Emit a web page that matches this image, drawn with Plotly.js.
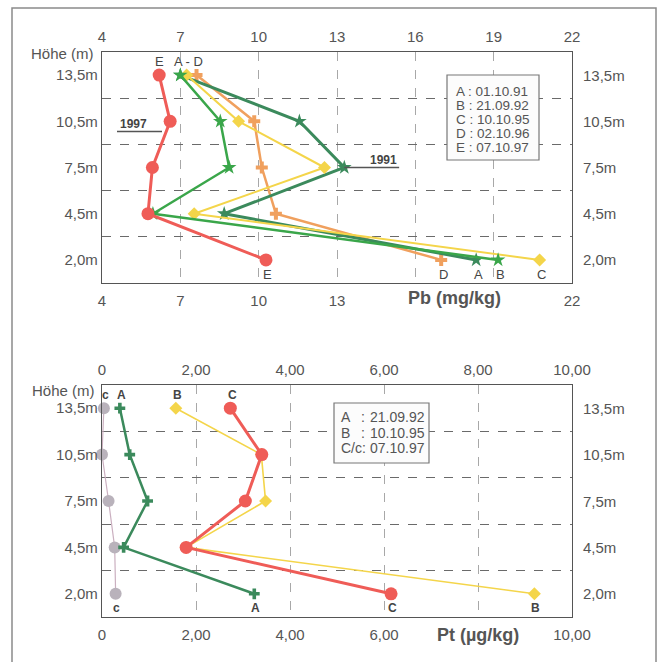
<!DOCTYPE html>
<html><head><meta charset="utf-8">
<script src="https://cdn.plot.ly/plotly-3.0.1.min.js"></script>
<style>html,body{margin:0;padding:0;background:#fff;} #chart{width:659px;height:662px;}</style>
</head><body><div id="chart"></div>
<script>
// ---- data ----
const heights = ['13,5m','10,5m','7,5m','4,5m','2,0m'];
const heightOrder = ['2,0m','4,5m','7,5m','10,5m','13,5m'];

const pbA = [7.0, 11.56, 13.28, 8.68, 18.33];
const pbB = [7.0, 8.53, 8.87, 5.95, 19.17];
const pbC = [7.24, 9.23, 12.52, 7.53, 20.76];
const pbD = [7.62, 9.83, 10.12, 10.66, 16.99];
const pbE = [6.19, 6.61, 5.93, 5.76, 10.28];
const pbTicks = [4, 7, 10, 13, 16, 19, 22];
const pbTopText = ['4','7','10','13','16','19','22'];
const pbBottomText = ['4','7','10','13','','','22'];
const pbLegend = ['A : 01.10.91','B : 21.09.92','C : 10.10.95','D : 02.10.96','E : 07.10.97'];

const ptA = [0.38, 0.59, 0.97, 0.46, 3.24];
const ptB = [1.57, 3.39, 3.48, 1.79, 9.20];
const ptC = [2.73, 3.40, 3.05, 1.79, 6.15];
const ptc = [0.04, 0.00, 0.14, 0.27, 0.29];
const ptTicks = [0, 2, 4, 6, 8, 10];
const ptTopText = ['0','2,00','4,00','6,00','8,00','10,00'];
const ptBottomText = ['0','2,00','4,00','6,00','','10,00'];
const ptLegendKeys = ['A','B','C/c:'];
const ptLegendDates = ['21.09.92', '10.10.95', '07.10.97'];

// ---- helpers ----
const W = 659, H = 662;
const px = v => v / W;
const py = v => 1 - v / H;
const FONT = 'Liberation Sans, Arial, sans-serif';
const TXT = '#555';

const cRed = '#ef5c57', cDark = '#3b8a5c', cGreen = '#3aa64a', cYellow = '#f4d54a', cOrange = '#f0a05e', cGray = '#b9b2bb';

function tr(x, xa, ya, color, width, symbol, msize, mcolor) {
  return {x: x, y: heights, xaxis: xa, yaxis: ya, type: 'scatter', mode: 'lines+markers',
    line: {color: color, width: width},
    marker: {symbol: symbol, size: msize, color: mcolor || color, line: {width: 0}},
    hoverinfo: 'skip', cliponaxis: false};
}
function ghost(x, xa, ya) {
  return {x: x, y: heights, xaxis: xa, yaxis: ya, type: 'scatter', mode: 'markers',
    marker: {opacity: 0, size: 1}, hoverinfo: 'skip'};
}

const data = [
  ghost(pbE, 'x3', 'y'),
  ghost(ptc, 'x4', 'y2'),
  tr(pbD, 'x', 'y', cOrange, 2.5, 'cross', 10),
  tr(pbA, 'x', 'y', cDark, 3, 'star', 11),
  tr(pbC, 'x', 'y', cYellow, 2, 'diamond', 10),
  tr(pbB, 'x', 'y', cGreen, 2.5, 'star', 11),
  tr(pbE, 'x', 'y', cRed, 3, 'circle', 13),
  tr(ptc, 'x2', 'y2', '#cbb0c0', 1.2, 'circle', 12, cGray),
  tr(ptB, 'x2', 'y2', cYellow, 1.6, 'diamond', 10),
  tr(ptA, 'x2', 'y2', cDark, 2.5, 'cross', 9),
  tr(ptC, 'x2', 'y2', cRed, 3, 'circle', 13)
];

const topDom = [py(283), py(52)];
const botDom = [py(617), py(385)];
const xDom = [px(102), px(572)];

function xax(range, tickvals, ticktext, anchor, grid) {
  return {domain: xDom, range: range, anchor: anchor, tickmode: 'array', tickvals: tickvals, ticktext: ticktext,
    showgrid: grid, gridcolor: '#a8a8a8', griddash: 'dash', gridwidth: 1, zeroline: false,
    showline: true, mirror: true, linecolor: '#555', linewidth: 1.2,
    ticks: 'outside', ticklen: 4, tickcolor: 'rgba(0,0,0,0)',
    tickfont: {family: FONT, size: 15, color: TXT}, fixedrange: true};
}
function xtop(over, anchor, tickvals, ticktext) {
  return {overlaying: over, matches: over, side: 'top', anchor: anchor, tickmode: 'array', tickvals: tickvals, ticktext: ticktext,
    showgrid: false, zeroline: false, showline: false, ticks: 'outside', ticklen: 3, tickcolor: 'rgba(0,0,0,0)',
    tickfont: {family: FONT, size: 15, color: TXT}, fixedrange: true};
}
function yax(dom, anchor) {
  return {domain: dom, anchor: anchor, type: 'category', categoryorder: 'array', categoryarray: heightOrder,
    range: [-0.5, 4.5], tickson: 'boundaries', showgrid: true, gridcolor: '#6a6a6a', griddash: 'dash', gridwidth: 1,
    showline: true, mirror: true, linecolor: '#555', linewidth: 1.2, zeroline: false,
    ticks: 'outside', ticklen: 7, tickcolor: 'rgba(0,0,0,0)',
    tickfont: {family: FONT, size: 15, color: TXT}, fixedrange: true};
}

const ann = [];
function A(o) { ann.push(Object.assign({showarrow: false, font: {family: FONT, size: 13, color: '#444'}}, o)); }

// right side height labels
heights.forEach(h => {
  A({xref: 'paper', x: px(581), xanchor: 'left', yref: 'y', y: h, text: h, font: {family: FONT, size: 15, color: TXT}});
  A({xref: 'paper', x: px(581), xanchor: 'left', yref: 'y2', y: h, text: h, font: {family: FONT, size: 15, color: TXT}});
});
// Höhe labels
A({xref: 'paper', x: px(96), xanchor: 'right', yref: 'paper', y: py(54), yanchor: 'middle', text: 'Höhe (m)', font: {family: FONT, size: 15, color: TXT}});
A({xref: 'paper', x: px(97), xanchor: 'right', yref: 'paper', y: py(390), yanchor: 'middle', text: 'Höhe (m)', font: {family: FONT, size: 15, color: TXT}});
// axis titles
A({xref: 'x', x: 17.5, yref: 'paper', y: py(298), yanchor: 'middle', text: '<b>Pb (mg/kg)</b>', font: {family: FONT, size: 18, color: TXT}});
A({xref: 'x2', x: 8, yref: 'paper', y: py(635), yanchor: 'middle', text: '<b>Pt (µg/kg)</b>', font: {family: FONT, size: 18, color: TXT}});

// series letter labels, top chart
A({xref: 'x', x: pbE[0], yref: 'y', y: heights[0], yshift: 14, text: 'E'});
A({xref: 'x', x: (pbA[0] + pbB[0] + pbC[0] + pbD[0]) / 4, xshift: 3, yref: 'y', y: heights[0], yshift: 14, text: 'A - D'});
[['E', pbE], ['D', pbD], ['A', pbA], ['B', pbB], ['C', pbC]].forEach(([t, s]) => {
  A({xref: 'x', x: s[4], xshift: 2, yref: 'y', y: heights[4], yshift: -15, text: t});
});
// bottom chart letter labels
[['c', ptc], ['A', ptA], ['B', ptB], ['C', ptC]].forEach(([t, s]) => {
  A({xref: 'x2', x: s[0], xshift: 2, yref: 'y2', y: heights[0], yshift: 13, text: '<b>' + t + '</b>', font: {family: FONT, size: 12, color: '#444'}});
  A({xref: 'x2', x: s[4], xshift: 1, yref: 'y2', y: heights[4], yshift: -14, text: '<b>' + t + '</b>', font: {family: FONT, size: 12, color: '#444'}});
});
// year labels
A({xref: 'paper', x: px(118), xanchor: 'left', yref: 'paper', y: py(124), yanchor: 'middle', text: '<b>1997</b>', font: {family: FONT, size: 12, color: '#444'}});
A({xref: 'paper', x: px(399), xanchor: 'right', yref: 'paper', y: py(160), yanchor: 'middle', text: '<b>1991</b>', font: {family: FONT, size: 12, color: '#444'}});

// legends
pbLegend.forEach((t, i) => {
  A({xref: 'paper', x: px(454), xanchor: 'left', yref: 'paper', y: py(91 + i * 14.2), yanchor: 'middle', text: t, font: {family: FONT, size: 13.5, color: TXT}});
});
ptLegendKeys.forEach((t, i) => {
  const yy = py(417 + i * 15.5);
  A({xref: 'paper', x: px(339), xanchor: 'left', yref: 'paper', y: yy, yanchor: 'middle', text: t, font: {family: FONT, size: 14, color: TXT}});
  if (t.indexOf(':') < 0) {
    A({xref: 'paper', x: px(359), xanchor: 'left', yref: 'paper', y: yy, yanchor: 'middle', text: ':', font: {family: FONT, size: 14, color: TXT}});
  }
  A({xref: 'paper', x: px(368), xanchor: 'left', yref: 'paper', y: yy, yanchor: 'middle', text: ptLegendDates[i], font: {family: FONT, size: 14, color: TXT}});
});

const shapes = [
  {type: 'rect', xref: 'paper', yref: 'paper', x0: px(12), x1: px(656), y0: -0.05, y1: py(8), line: {color: '#8a8a8a', width: 1.5}},
  {type: 'rect', xref: 'paper', yref: 'paper', x0: px(447), x1: px(539), y0: py(160), y1: py(75), line: {color: '#777', width: 1.2}, fillcolor: '#fcfcfc', layer: 'above'},
  {type: 'rect', xref: 'paper', yref: 'paper', x0: px(334), x1: px(429), y0: py(463), y1: py(403), line: {color: '#777', width: 1.2}, fillcolor: '#fcfcfc', layer: 'above'},
  {type: 'line', xref: 'paper', yref: 'paper', x0: px(117), x1: px(162), y0: py(131.5), y1: py(131.5), line: {color: '#555', width: 1.3}},
  {type: 'line', xref: 'x', yref: 'paper', x0: pbA[2], x1: pbA[2] + 2.1, y0: py(167.5), y1: py(167.5), line: {color: '#555', width: 1.3}}
];

const layout = {
  width: W, height: H, margin: {l: 0, r: 0, t: 0, b: 0},
  paper_bgcolor: '#fff', plot_bgcolor: '#fff', showlegend: false,
  font: {family: FONT, size: 15, color: TXT},
  xaxis: xax([4, 22], pbTicks, pbBottomText, 'y', true),
  xaxis3: xtop('x', 'y', pbTicks, pbTopText),
  yaxis: yax(topDom, 'x'),
  xaxis2: xax([0, 10], ptTicks, ptBottomText, 'y2', true),
  xaxis4: xtop('x2', 'y2', ptTicks, ptTopText),
  yaxis2: yax(botDom, 'x2'),
  annotations: ann,
  shapes: shapes
};

Plotly.newPlot('chart', data, layout, {displayModeBar: false, staticPlot: true});
</script>
</body></html>
